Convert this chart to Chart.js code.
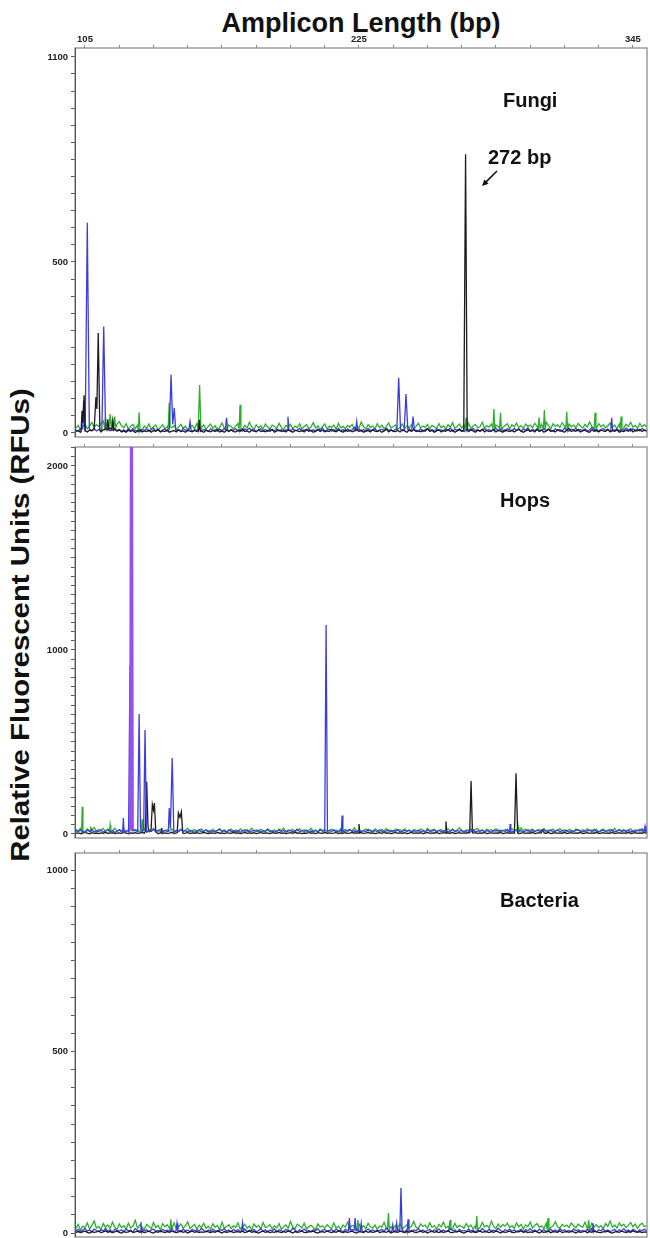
<!DOCTYPE html>
<html>
<head>
<meta charset="utf-8">
<script src="https://cdn.jsdelivr.net/npm/chart.js@4.4.1/dist/chart.umd.min.js"></script>
<style>
html,body{margin:0;padding:0;background:#fff;}
#wrap{position:relative;width:650px;height:1238px;overflow:hidden;background:#fff;font-family:"Liberation Sans",Arial,sans-serif;}
canvas{position:absolute;left:0;}
#title{position:absolute;left:0;top:7px;width:722px;text-align:center;font-weight:bold;font-size:27px;line-height:32px;color:#111;white-space:nowrap;}
#ytitle{position:absolute;left:-280px;top:610px;width:600px;height:30px;line-height:30px;text-align:center;font-weight:bold;font-size:26px;color:#111;white-space:nowrap;transform:rotate(-90deg) scale(1.13,1);transform-origin:50% 50%;}
</style>
</head>
<body>
<div id="wrap">
  <div id="title">Amplicon Length (bp)</div>
  <div id="ytitle">Relative Fluorescent Units (RFUs)</div>
  <canvas id="c1" width="650" height="440" style="top:0px"></canvas>
  <canvas id="c2" width="650" height="402" style="top:440px"></canvas>
  <canvas id="c3" width="650" height="392" style="top:846px"></canvas>
</div>
<script>
// ---------------- DATA ----------------
// amplicon length axis (bp)
const xTickValues = [105,120,135,150,165,180,195,210,225,240,255,270,285,300,315,330,345];
const xTickLabels = [105,225,345];
const fungiYLabels = [0,500,1100];
const hopsYLabels = [0,1000,2000];
const bactYLabels = [0,500,1000];
const BASE_START_BP = 101; // baseline values below are one per bp, 101..351

// ---- Fungi ----
const fungiGreenBase = [
14,22,9,18,27,12,20,31,16,24,
19,28,35,41,30,45,38,44,26,33,
21,15,27,11,19,25,13,22,17,9,
20,14,26,10,18,23,8,16,24,12,
19,27,15,21,11,17,25,13,20,9,
16,22,12,28,18,14,24,10,19,26,
13,21,8,17,29,15,11,23,18,12,
20,27,16,10,22,14,31,18,9,24,
15,21,12,26,17,11,23,19,13,28,
16,10,22,18,25,12,20,15,27,11,
19,24,13,17,30,14,21,9,18,26,
12,20,16,23,11,28,15,19,13,22,
17,25,10,21,14,32,18,12,24,16,
20,11,27,15,22,13,19,29,14,18,
23,10,17,26,12,21,15,24,11,19,
28,14,20,16,25,12,22,18,13,27,
15,21,11,24,17,30,13,19,26,14,
22,16,28,12,20,25,15,18,31,13,
21,17,26,14,23,19,33,15,22,27,
12,24,18,29,16,21,13,26,19,23,
15,28,20,14,25,17,31,22,12,27,
19,24,16,30,21,13,26,18,23,15,
28,20,14,25,17,32,19,22,13,27,
18,24,15,21,29,16,23,12,26,20,
14,25,19,31,17,22,13,28,18,24,
16];
const fungiBlueBase = [
8,5,12,6,9,4,11,7,13,6,
10,5,14,8,11,6,9,12,7,10,
5,9,4,11,7,13,6,8,3,10,
7,12,5,9,14,6,10,4,8,11,
6,9,5,12,7,10,4,13,8,6,
11,5,9,7,14,6,10,8,4,12,
7,9,5,11,6,13,8,4,10,7,
12,6,9,5,11,8,14,7,10,4,
9,13,6,10,5,12,8,7,11,6,
10,4,9,15,7,11,6,8,13,5,
9,7,12,6,10,4,11,8,14,6,
8,11,5,9,7,13,6,10,4,12,
7,9,16,8,11,5,10,6,13,7,
9,12,5,8,11,6,14,7,10,4,
11,8,13,6,9,7,12,5,10,8,
6,11,4,9,13,7,10,5,12,8,
9,6,11,7,14,5,10,8,12,6,
4,9,11,7,13,6,10,5,8,12,
7,10,5,9,14,6,11,8,4,12,
9,6,13,7,10,5,11,8,15,6,
10,7,12,5,9,13,6,11,8,4,
12,7,10,6,14,8,5,11,9,13,
6,10,7,12,5,9,16,8,11,6,
10,13,7,9,5,12,8,11,6,10,
7,14,9,5,12,8,10,6,13,9,
7];
const fungiBlackBase = [
4,7,2,9,5,3,8,6,10,4,
7,3,9,12,6,14,8,11,5,9,
3,6,2,8,4,7,1,5,9,3,
6,4,8,2,7,5,10,3,6,4,
8,2,5,7,3,9,4,6,2,8,
5,3,7,4,9,6,2,8,5,3,
7,4,10,3,6,2,8,5,9,4,
3,7,5,11,4,6,2,8,5,3,
9,4,6,3,7,5,10,2,6,8,
4,7,3,9,5,2,8,6,4,7,
3,10,5,7,2,6,9,4,8,3,
6,4,11,5,3,8,6,2,9,5,
7,3,6,10,4,8,2,5,7,3,
9,5,4,7,2,6,11,3,8,5,
4,7,3,9,6,2,8,5,10,4,
6,3,8,5,12,4,7,2,6,9,
3,7,5,10,4,8,2,6,9,5,
3,7,4,9,6,2,8,5,11,3,
7,4,6,10,3,8,5,2,9,6,
4,8,3,7,12,5,2,6,9,4,
7,3,10,5,8,2,6,11,4,7,
3,9,5,6,2,8,13,4,7,5,
10,3,6,8,4,2,9,5,7,3,
8,6,4,11,3,7,5,9,2,6,
4,8,5,12,3,7,6,10,4,8,
5];
// peaks: [bp, RFU] points
const fungiGreenPeaks = [
 [[113.6,15],[114.0,45],[114.4,20]],
 [[115.6,20],[116.0,55],[116.5,18]],
 [[117.6,16],[118.0,48],[118.4,15]],
 [[128.3,10],[128.7,60],[129.1,10]],
 [[141.4,10],[141.9,88],[142.3,18]],
 [[154.6,10],[155.2,140],[155.8,10]],
 [[172.5,10],[172.9,82],[173.3,10]],
 [[271.5,10],[271.9,44],[272.3,12]],
 [[283.7,12],[284.1,70],[284.5,10]],
 [[286.6,12],[287.0,59],[287.4,10]],
 [[303.5,10],[303.9,45],[304.3,12]],
 [[305.8,12],[306.2,67],[306.6,10]],
 [[315.6,12],[316.0,62],[316.4,10]],
 [[328.0,12],[328.4,59],[328.8,10]],
 [[339.4,12],[339.8,48],[340.2,10]]
];
const fungiBluePeaks = [
 [[104.0,12],[104.4,95],[104.8,20]],
 [[105.1,10],[106.0,615],[106.9,12]],
 [[112.4,14],[113.2,311],[114.0,12]],
 [[141.9,10],[142.7,170],[143.4,25],[144.1,73],[144.7,10]],
 [[150.5,8],[151.0,33],[151.5,7]],
 [[166.5,9],[167.0,44],[167.5,8]],
 [[193.5,8],[193.9,47],[194.3,9]],
 [[223.6,8],[224.0,33],[224.4,8]],
 [[241.6,10],[242.4,161],[243.2,10]],
 [[244.8,9],[245.6,114],[246.4,10]],
 [[248.1,8],[248.7,48],[249.3,8]],
 [[335.3,8],[335.7,44],[336.1,8]]
];
const fungiBlackPeaks = [
 [[103.3,5],[103.7,65],[104.1,30],[104.6,110],[105.1,6]],
 [[109.2,10],[109.8,105],[110.2,70],[110.8,292],[111.5,10]],
 [[114.6,8],[115.0,40],[115.4,10]],
 [[116.8,10],[117.2,35],[117.6,8]],
 [[154.7,6],[155.1,38],[155.5,5]],
 [[270.9,8],[271.7,815],[272.4,8]]
];

// ---- Hops ----
const hopsGreenBase = [
25,16,31,20,14,28,18,22,35,15,
24,19,30,13,27,21,17,32,14,23,
18,26,12,21,15,29,16,24,11,20,
27,14,22,17,31,13,19,25,12,18,
23,15,28,11,20,16,26,14,21,30,
13,19,24,12,17,27,15,22,18,10,
25,16,20,29,14,23,12,18,26,15,
21,11,27,17,24,13,19,30,16,22,
14,25,18,12,28,20,15,23,11,26,
19,32,13,22,17,25,12,20,28,16,
23,14,19,31,15,21,12,27,18,24,
13,20,26,16,22,11,29,17,25,14,
21,18,33,15,24,12,19,27,16,22,
14,28,20,13,25,17,30,15,21,11,
26,18,23,14,29,16,20,12,24,19,
15,27,21,13,31,17,22,26,14,20,
24,12,19,28,16,23,15,21,34,17,
13,22,18,27,14,25,30,16,20,12,
26,19,23,15,28,13,21,17,24,14,
20,29,16,22,12,33,18,25,15,21,
27,14,19,24,16,30,13,22,18,26,
15,21,28,17,23,12,25,19,14,27,
20,16,24,13,29,18,22,15,26,11,
21,27,14,19,25,16,31,13,22,18,
24,15,20,28,12,23,17,26,14,21,
18];
const hopsBlueBase = [
18,12,22,15,9,20,14,25,11,17,
13,21,10,16,24,12,19,8,15,22,
11,18,14,20,9,16,23,12,19,13,
21,10,17,14,26,11,18,15,9,20,
13,22,16,10,19,12,24,15,18,11,
20,14,9,17,23,12,16,21,10,18,
15,11,19,25,13,17,10,22,14,16,
12,20,8,18,15,23,11,16,19,13,
21,10,17,14,24,12,18,9,16,22,
13,19,11,15,20,10,17,26,12,18,
14,21,9,16,13,19,11,23,15,17,
10,18,14,22,12,16,20,11,15,19,
24,13,17,10,21,14,18,12,25,16,
11,19,13,22,15,9,17,20,12,18,
14,23,10,16,19,13,21,11,17,15,
20,12,18,9,24,14,16,22,11,19,
13,17,21,10,15,26,12,18,14,20,
11,16,19,13,23,10,17,15,21,12,
18,14,9,20,16,22,12,19,13,25,
15,11,17,21,14,18,10,16,23,12,
19,13,20,15,11,24,17,14,21,10,
16,22,12,18,15,20,9,17,13,19,
23,14,11,18,16,21,12,25,15,10,
17,20,13,19,14,22,11,16,24,12,
18,15,21,10,17,13,20,16,28,14,
19];
const hopsBlackBase = [
3,6,2,5,8,4,1,7,3,5,
2,6,4,9,3,5,7,2,4,6,
3,8,5,2,6,4,7,3,5,9,
4,2,6,3,8,5,1,7,4,6,
3,5,9,2,6,4,7,3,5,8,
2,6,4,7,3,5,9,4,2,6,
5,3,8,4,6,2,7,5,3,9,
4,6,2,5,8,3,6,4,7,2,
5,9,3,6,4,2,7,5,3,8,
4,6,2,5,7,3,9,4,6,2,
5,3,8,4,6,2,7,5,3,9,
4,6,3,5,8,2,6,4,7,3,
5,9,4,6,2,7,3,5,8,4,
6,2,5,7,3,9,4,6,2,5,
8,3,6,4,7,2,5,9,3,6,
4,7,2,5,8,3,6,4,9,2,
5,7,3,6,4,8,2,5,7,3,
6,4,9,2,5,7,3,6,4,8,
2,5,7,3,6,4,9,2,5,7,
3,6,4,8,2,5,7,3,6,4,
9,2,5,7,3,6,4,8,2,5,
7,3,6,4,9,2,5,7,3,6,
4,8,2,5,7,3,6,4,9,2,
5,7,3,6,4,8,2,5,7,3,
6,4,9,2,5,7,3,6,4,8,
5];
const hopsGreenPeaks = [
 [[103.5,10],[103.8,148],[104.1,12]],
 [[107.2,12],[107.5,40],[107.8,14]],
 [[115.7,12],[116.0,49],[116.3,14]],
 [[124.6,15],[125.1,810],[125.6,20]],
 [[129.6,20],[130.0,80],[130.4,15]],
 [[294.4,12],[294.7,40],[295.0,12]]
];
const hopsBluePeaks = [
 [[121.5,10],[121.8,87],[122.1,10]],
 [[124.1,15],[124.7,913],[125.2,30]],
 [[128.1,20],[128.7,652],[129.3,30]],
 [[130.7,30],[131.3,565],[131.9,20]],
 [[141.5,15],[141.9,141],[142.4,30],[143.2,413],[143.9,15]],
 [[210.0,15],[210.6,1136],[211.2,15]],
 [[217.3,10],[217.6,100],[217.9,10]],
 [[290.9,10],[291.2,54],[291.5,10]],
 [[349.9,12],[350.3,42],[350.7,12]]
];
const hopsPurplePeaks = [
 [[124.95,20],[125.35,2600],[125.75,20]]
];
const hopsBlackPeaks = [
 [[131.4,15],[132.0,284],[132.6,40],[133.1,12]],
 [[133.9,15],[134.5,160],[135.0,130],[135.4,168],[136.0,12]],
 [[138.3,5],[138.6,33],[138.9,5]],
 [[145.4,8],[145.9,115],[146.6,90],[147.2,121],[147.8,8]],
 [[224.6,5],[225.0,54],[225.4,5]],
 [[262.7,5],[263.1,67],[263.5,5]],
 [[273.5,6],[274.1,288],[274.7,6]],
 [[293.1,6],[293.8,330],[294.5,6]],
 [[304.9,5],[305.2,22],[305.8,22],[306.1,5]]
];

// ---- Bacteria ----
const bactGreenBase = [
12,24,8,19,15,28,11,21,33,14,
18,9,26,16,22,12,30,17,10,25,
15,20,11,27,14,19,35,13,22,16,
10,24,18,12,29,15,21,9,26,17,
23,13,19,28,11,16,25,14,20,31,
12,18,24,10,22,15,27,13,19,11,
26,16,21,9,30,14,18,23,12,20,
15,28,11,17,24,13,19,10,25,16,
21,12,29,15,18,23,11,20,14,26,
10,17,22,13,32,16,12,24,19,14,
27,11,18,21,15,9,25,16,20,13,
23,17,12,28,14,19,10,22,16,30,
13,21,18,11,25,15,20,12,27,17,
14,22,10,19,16,29,13,24,18,12,
21,15,26,11,17,23,14,19,32,16,
12,25,18,22,13,28,16,20,11,24,
17,30,14,19,23,12,27,15,21,18,
13,26,16,22,11,20,24,15,29,17,
21,14,33,18,12,25,16,23,19,27,
15,20,13,28,17,24,11,22,18,30,
14,21,26,16,19,12,27,23,15,20,
31,17,13,24,18,22,15,28,20,14,
25,19,16,30,13,21,27,17,23,15,
20,12,26,18,33,16,22,14,28,19,
24,15,21,29,17,25,13,22,27,18,
20];
const bactBlueBase = [
6,10,4,8,12,5,9,3,11,7,
4,9,6,13,5,8,3,10,7,5,
9,4,11,6,8,3,12,7,5,10,
6,9,4,8,11,5,7,3,10,6,
8,5,12,4,9,7,3,11,6,8,
4,10,6,9,5,13,7,3,8,5,
11,6,4,9,7,12,5,8,3,10,
6,9,5,7,11,4,8,6,10,3,
7,12,5,9,4,8,6,11,3,9,
6,4,10,7,5,13,8,3,9,6,
11,5,7,4,9,6,12,3,8,10,
5,7,9,4,11,6,8,3,10,7,
4,9,6,12,5,8,3,7,11,6,
9,4,8,6,10,5,13,7,4,9,
6,11,5,8,3,10,7,4,9,6,
12,5,8,4,7,10,3,9,6,11,
5,8,4,7,12,6,9,3,10,5,
7,4,11,6,8,3,9,5,12,7,
4,10,6,8,5,13,7,3,9,6,
11,5,8,4,7,10,3,9,6,12,
5,8,4,11,6,9,3,7,10,5,
8,4,12,6,9,5,7,3,11,6,
9,5,7,4,10,6,13,8,3,9,
6,11,5,8,4,7,10,3,9,6,
12,5,8,4,10,7,3,9,6,11,
5];
const bactBlackBase = [
2,4,1,3,5,2,0,4,2,3,
5,1,3,6,2,4,1,3,5,2,
0,4,2,3,6,1,3,5,2,4,
1,3,5,2,0,4,2,6,3,1,
4,2,5,3,1,3,6,2,4,0,
3,5,2,4,1,3,2,5,3,1,
4,2,6,3,0,4,2,3,5,1,
3,4,2,5,1,3,6,2,4,2,
0,3,5,2,4,1,3,2,5,3,
1,4,2,6,3,0,4,2,3,5,
2,1,4,3,5,2,0,3,4,2,
5,3,1,4,2,6,3,1,4,2,
3,5,2,0,4,3,1,5,2,4,
2,3,6,1,3,4,2,5,0,3,
4,2,5,3,1,4,2,6,3,1,
3,5,2,4,0,3,5,2,4,1,
4,2,3,6,2,1,4,3,5,2,
0,3,5,2,4,1,3,6,2,4,
3,1,4,2,5,3,0,4,2,3,
5,2,1,4,3,6,2,4,1,3,
2,5,3,0,4,2,3,5,1,4,
3,2,6,1,3,4,2,5,3,0,
4,2,3,5,1,4,2,6,3,2,
1,4,3,5,2,0,3,4,2,5,
3,1,4,2,6,3,2,4,1,3,
2];
const bactGreenPeaks = [
 [[142.2,10],[142.6,38],[143.0,10]],
 [[224.1,10],[224.5,36],[224.9,10]],
 [[237.5,10],[237.9,55],[238.3,10]],
 [[264.5,10],[264.9,36],[265.3,10]],
 [[276.2,10],[276.6,47],[277.0,10]],
 [[307.4,10],[307.8,41],[308.2,10]],
 [[325.2,10],[325.6,36],[326.0,10]]
];
const bactBluePeaks = [
 [[129.1,6],[129.5,30],[129.9,6]],
 [[144.9,6],[145.3,27],[145.7,6]],
 [[173.6,6],[174.0,28],[174.4,6]],
 [[220.4,6],[220.8,41],[221.2,8]],
 [[222.9,8],[223.3,41],[223.7,6]],
 [[225.6,5],[226.0,27],[226.4,5]],
 [[239.4,5],[239.8,22],[240.2,5]],
 [[241.1,5],[241.5,27],[241.9,6]],
 [[242.9,6],[243.4,124],[243.9,6]],
 [[246.1,6],[246.5,38],[246.9,6]],
 [[327.1,5],[327.5,27],[327.9,5]]
];
const bactBlackPeaks = [];

// ---------------- BUILD ----------------
function buildSeries(base, peaks) {
  const pts = [];
  base.forEach((v, i) => {
    const x = BASE_START_BP + i;
    const inPeak = peaks.some(g => x >= g[0][0] && x <= g[g.length - 1][0]);
    if (!inPeak) pts.push({x: x, y: v});
  });
  peaks.forEach(g => g.forEach(p => pts.push({x: p[0], y: p[1]})));
  pts.sort((a, b) => a.x - b.x);
  return pts;
}

const COL = {green:'#2eae2e', blue:'#3d3ddc', black:'#1c1c1c', purple:'#9b4fe8'};
const X_MIN = 100.62, X_MAX = 351.16;
const TICK_FONT = {family:'"Liberation Sans", Arial, sans-serif', size:9.5, weight:'bold'};

const framePlugin = {
  id: 'frame',
  beforeDatasetsDraw(chart) {
    const {ctx, chartArea: a} = chart;
    ctx.save();
    ctx.strokeStyle = '#8e8e8e';
    ctx.lineWidth = 1.3;
    ctx.strokeRect(a.left, a.top, a.right - a.left, a.bottom - a.top);
    ctx.strokeStyle = '#555';
    ctx.lineWidth = 1;
    ctx.beginPath(); ctx.moveTo(a.left + 0.5, a.top); ctx.lineTo(a.left + 0.5, a.bottom); ctx.stroke();
    ctx.restore();
  }
};
const textPlugin = {
  id: 'panelText',
  afterDraw(chart, args, opts) {
    const ctx = chart.ctx;
    ctx.save();
    ctx.fillStyle = '#111';
    ctx.textAlign = 'left';
    ctx.textBaseline = 'alphabetic';
    (opts.items || []).forEach(it => {
      ctx.font = it.font;
      ctx.fillText(it.text, it.x, it.y);
    });
    if (opts.arrow) {
      const [x1, y1, x2, y2] = opts.arrow;
      const ang = Math.atan2(y2 - y1, x2 - x1);
      ctx.strokeStyle = '#111';
      ctx.lineWidth = 1.6;
      ctx.beginPath(); ctx.moveTo(x1, y1); ctx.lineTo(x2 - 4 * Math.cos(ang), y2 - 4 * Math.sin(ang)); ctx.stroke();
      ctx.beginPath();
      ctx.moveTo(x2, y2);
      ctx.lineTo(x2 - 7 * Math.cos(ang - 0.45), y2 - 7 * Math.sin(ang - 0.45));
      ctx.lineTo(x2 - 7 * Math.cos(ang + 0.45), y2 - 7 * Math.sin(ang + 0.45));
      ctx.closePath();
      ctx.fill();
    }
    ctx.restore();
  }
};

function makeChart(id, cfg) {
  const datasets = cfg.series.map(s => ({
    data: s.data, borderColor: s.color, borderWidth: s.width || 1.3,
    pointRadius: 0, tension: 0, fill: false, order: s.order
  }));
  return new Chart(document.getElementById(id), {
    type: 'line',
    data: {datasets},
    options: {
      responsive: false, animation: false, devicePixelRatio: 1, parsing: false,
      events: [],
      layout: {padding: {left: 0, right: 3, top: 0, bottom: cfg.padBottom}},
      plugins: {legend: {display: false}, tooltip: {enabled: false}, panelText: cfg.text},
      scales: {
        x: {
          type: 'linear', position: 'top', min: X_MIN, max: X_MAX,
          afterBuildTicks: ax => { ax.ticks = xTickValues.map(v => ({value: v})); },
          afterFit: ax => { ax.height = cfg.xHeight; ax.paddingLeft = 0; ax.paddingRight = 0; },
          ticks: {autoSkip: false, maxRotation: 0, minRotation: 0, padding: 0, color: '#222', font: TICK_FONT,
                  callback: v => cfg.xLabels.includes(v) ? String(v) : ''},
          grid: {drawOnChartArea: false, drawTicks: true, tickLength: 3, color: '#8e8e8e'},
          border: {display: false}
        },
        y: {
          type: 'linear', min: cfg.yMin, max: cfg.yMax,
          afterBuildTicks: ax => { const t = []; for (let v = 0; v <= cfg.yMax; v += 50) t.push({value: v}); ax.ticks = t; },
          afterFit: ax => { ax.width = 75; ax.paddingTop = 0; ax.paddingBottom = 0; },
          ticks: {autoSkip: false, padding: 3, color: '#222', font: TICK_FONT,
                  callback: v => cfg.yLabels.includes(v) ? String(v) : ''},
          grid: {drawOnChartArea: false, drawTicks: true, tickLength: 4, color: '#555'},
          border: {display: false}
        }
      }
    },
    plugins: [framePlugin, textPlugin]
  });
}

makeChart('c1', {
  xHeight: 48, padBottom: 3, yMin: -12, yMax: 1126, yLabels: fungiYLabels, xLabels: xTickLabels,
  series: [
    {data: buildSeries(fungiGreenBase, fungiGreenPeaks), color: COL.green, order: 2},
    {data: buildSeries(fungiBlueBase, fungiBluePeaks), color: COL.blue, order: 1},
    {data: buildSeries(fungiBlackBase, fungiBlackPeaks), color: COL.black, order: 0}
  ],
  text: {
    items: [
      {text: 'Fungi', x: 503, y: 107, font: 'bold 20px "Liberation Sans", Arial, sans-serif'},
      {text: '272 bp', x: 488, y: 164, font: 'bold 20px "Liberation Sans", Arial, sans-serif'}
    ],
    arrow: [497, 171, 482, 186]
  }
});
makeChart('c2', {
  xHeight: 7, padBottom: 4, yMin: -22, yMax: 2103, yLabels: hopsYLabels, xLabels: [],
  series: [
    {data: buildSeries(hopsGreenBase, hopsGreenPeaks), color: COL.green, order: 3},
    {data: buildSeries(hopsBlackBase, hopsBlackPeaks), color: COL.black, order: 2},
    {data: buildSeries(hopsBlueBase, hopsBluePeaks), color: COL.blue, order: 1},
    {data: buildSeries([], hopsPurplePeaks), color: COL.purple, width: 3, order: 0}
  ],
  text: {
    items: [
      {text: 'Hops', x: 500, y: 67, font: 'bold 20px "Liberation Sans", Arial, sans-serif'}
    ]
  }
});
makeChart('c3', {
  xHeight: 7, padBottom: 1, yMin: -11, yMax: 1047, yLabels: bactYLabels, xLabels: [],
  series: [
    {data: buildSeries(bactGreenBase, bactGreenPeaks), color: COL.green, order: 2},
    {data: buildSeries(bactBlueBase, bactBluePeaks), color: COL.blue, order: 1},
    {data: buildSeries(bactBlackBase, bactBlackPeaks), color: COL.black, order: 0}
  ],
  text: {
    items: [
      {text: 'Bacteria', x: 500, y: 61, font: 'bold 20px "Liberation Sans", Arial, sans-serif'}
    ]
  }
});
</script>
</body>
</html>
